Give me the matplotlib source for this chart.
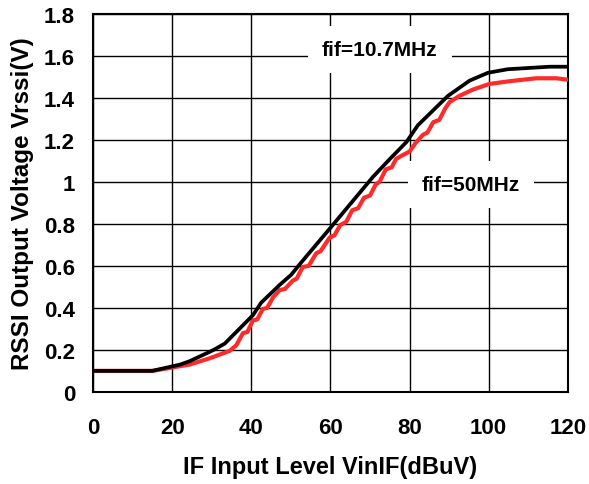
import numpy as np
import matplotlib
matplotlib.use('Agg')
import matplotlib.pyplot as plt

plt.rcParams['font.family'] = ['Liberation Sans', 'DejaVu Sans']
plt.rcParams['font.weight'] = 'bold'

# fif = 10.7MHz (black)
x_107 = [0, 15, 22, 24.4, 30.3, 33.3, 40.4, 42.5, 47.2, 50.1, 52.2, 59.8,
         70.7, 74.9, 79.2, 82.1, 89.7, 95.2, 99.8, 104.8, 115.4, 120]
y_107 = [0.10, 0.10, 0.13, 0.146, 0.198, 0.23, 0.365, 0.425, 0.51, 0.558, 0.607, 0.777,
         1.023, 1.107, 1.19, 1.27, 1.41, 1.483, 1.52, 1.537, 1.549, 1.549]

# fif = 50MHz (red, jagged trace)
x_50 = [0, 15, 24.4, 29.5, 34.5, 36.2, 37.9, 39, 40.4, 41.5, 42.9, 44, 45.5, 47.2,
        48.5, 50.5, 51.5, 53, 54.5, 56.4, 57.5, 59.8, 61, 62.5, 64, 65.5, 67, 68.5,
        70, 71.5, 72.4, 74, 75.5, 76.6, 78, 80, 81.5, 83.4, 84.5, 86, 87.5, 89, 90.1,
        92.6, 96, 100.2, 105.3, 112, 117.1, 120]
y_50 = [0.10, 0.10, 0.13, 0.16, 0.195, 0.222, 0.28, 0.285, 0.34, 0.345, 0.395, 0.40,
        0.45, 0.485, 0.49, 0.53, 0.54, 0.595, 0.60, 0.66, 0.67, 0.735, 0.745, 0.795,
        0.81, 0.865, 0.875, 0.925, 0.935, 0.99, 1.0, 1.06, 1.07, 1.11, 1.125, 1.145,
        1.185, 1.225, 1.235, 1.285, 1.295, 1.35, 1.38, 1.41, 1.44, 1.467, 1.48, 1.494,
        1.494, 1.487]

xticks = [0, 20, 40, 60, 80, 100, 120]
yticks = [0, 0.2, 0.4, 0.6, 0.8, 1, 1.2, 1.4, 1.6, 1.8]
ytick_labels = ['0', '0.2', '0.4', '0.6', '0.8', '1', '1.2', '1.4', '1.6', '1.8']

fig = plt.figure(figsize=(5.89, 4.85), dpi=100)
ax = fig.add_axes([0.158, 0.19, 0.806, 0.779])

ax.plot(x_50, y_50, color='#ff2a2a', linewidth=3, zorder=3)
ax.plot(x_107, y_107, color='black', linewidth=2.7, zorder=4)

ax.set_xlim(0, 120)
ax.set_ylim(0, 1.8)
ax.set_xticks(xticks)
ax.set_yticks(yticks)
ax.set_yticklabels(ytick_labels)
ax.tick_params(axis='both', length=0, labelsize=16)
ax.tick_params(axis='x', pad=18)
ax.tick_params(axis='y', pad=13)
ax.grid(True, color='black', linewidth=1)
ax.set_axisbelow(True)
for s in ax.spines.values():
    s.set_linewidth(1.5)

ax.set_xlabel('IF Input Level VinIF(dBuV)', fontsize=17, fontweight='bold', labelpad=12)
ax.set_ylabel('RSSI Output Voltage Vrssi(V)', fontsize=17.5, fontweight='bold', labelpad=7)

ax.text(72.5, 1.63, 'fif=10.7MHz', fontsize=15, fontweight='bold', ha='center', va='center',
        bbox=dict(facecolor='white', edgecolor='none', pad=10), zorder=2)
ax.text(95.5, 0.99, 'fif=50MHz', fontsize=15, fontweight='bold', ha='center', va='center',
        bbox=dict(facecolor='white', edgecolor='none', pad=10), zorder=2)

fig.savefig('out.png', dpi=100)
